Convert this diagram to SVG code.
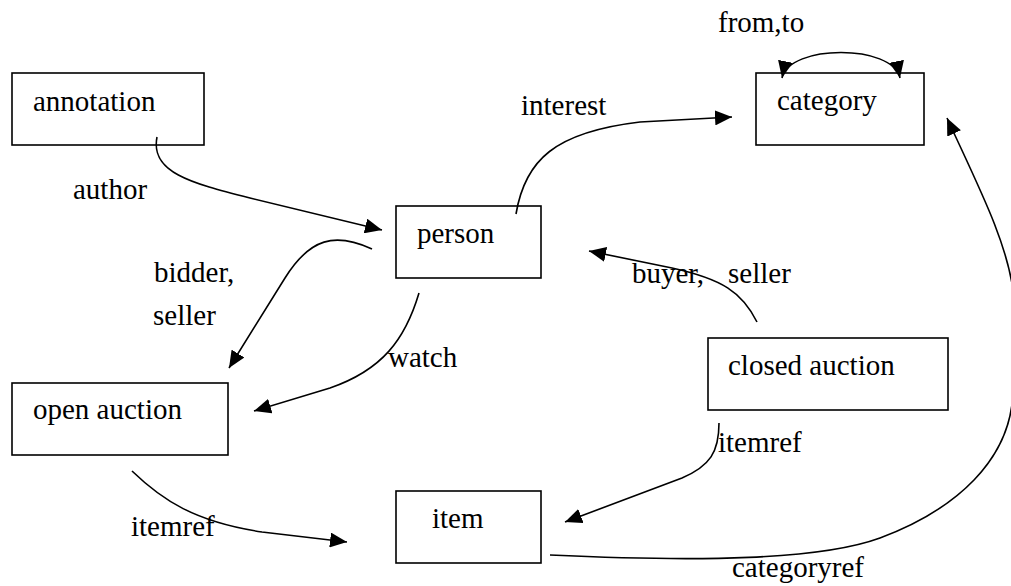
<svg xmlns="http://www.w3.org/2000/svg" width="1011" height="586" viewBox="0 0 1011 586">
  <style>
    .box { fill: #fff; stroke: #000; stroke-width: 1.6; }
    .lbl { font-family: "Liberation Serif", "Times New Roman", serif; font-size: 29px; fill: #000; }
    .edge { fill: none; stroke: #000; stroke-width: 1.6; marker-end: url(#arrow); }
  </style>
  <defs>
    <marker id="arrow" markerUnits="userSpaceOnUse" markerWidth="18" markerHeight="15" viewBox="0 0 18 15" refX="17" refY="7.5" orient="auto-start-reverse">
      <path d="M0,0 L17,7.5 L0,15 Z" fill="#000"/>
    </marker>
  </defs>

  <rect width="1011" height="586" fill="#fff"/>

  <g id="annotation">
    <rect class="box" x="12" y="73" width="192" height="72"/>
    <text class="lbl" x="33" y="111">annotation</text>
  </g>
  <g id="category">
    <rect class="box" x="756" y="73" width="168" height="72"/>
    <text class="lbl" x="777" y="110">category</text>
  </g>
  <g id="person">
    <rect class="box" x="396" y="206" width="145" height="72"/>
    <text class="lbl" x="417" y="243">person</text>
  </g>
  <g id="closed-auction">
    <rect class="box" x="708" y="338" width="240" height="72"/>
    <text class="lbl" x="728" y="375">closed auction</text>
  </g>
  <g id="open-auction">
    <rect class="box" x="12" y="383" width="216" height="72"/>
    <text class="lbl" x="33" y="419">open auction</text>
  </g>
  <g id="item">
    <rect class="box" x="396" y="491" width="145" height="72"/>
    <text class="lbl" x="432" y="528">item</text>
  </g>

  <g id="connectors">
    <!-- category self reference -->
    <path class="edge" d="M782,78 C789,44 893,44 900,78" marker-start="url(#arrow)"/>
    <!-- annotation -> person -->
    <path class="edge" d="M157,137 C150,172 190,183 250,198 L382,230"/>
    <!-- person -> category -->
    <path class="edge" d="M516,214 C525,160 555,132 640,122 L732,117"/>
    <!-- person -> open auction (bidder, seller) -->
    <path class="edge" d="M372,249 C335,232 310,238 285,278 L229,368"/>
    <!-- person -> open auction (watch) -->
    <path class="edge" d="M419,293 C405,340 382,370 330,388 L254,411"/>
    <!-- closed auction -> person -->
    <path class="edge" d="M757,322 C742,292 722,279 672,268 L589,251"/>
    <!-- closed auction -> item -->
    <path class="edge" d="M719,423 C719,452 710,466 682,478 L565,522"/>
    <!-- open auction -> item -->
    <path class="edge" d="M132,471 C162,500 195,522 262,532 L347,542"/>
    <!-- item -> category -->
    <path class="edge" d="M550,555 C700,562 820,560 880,538 C955,510 1012,460 1013,390 L1013,290 C1006,240 980,190 947,118"/>
  </g>

  <g class="lbl">
    <text x="718" y="32">from,to</text>
    <text x="521" y="115">interest</text>
    <text x="73" y="199">author</text>
    <text x="154" y="282">bidder,</text>
    <text x="153" y="325">seller</text>
    <text x="388" y="367">watch</text>
    <text y="283"><tspan x="632">buyer,</tspan><tspan x="728">seller</tspan></text>
    <text x="718" y="452">itemref</text>
    <text x="131" y="536">itemref</text>
    <text x="732" y="577">categoryref</text>
  </g>
</svg>
